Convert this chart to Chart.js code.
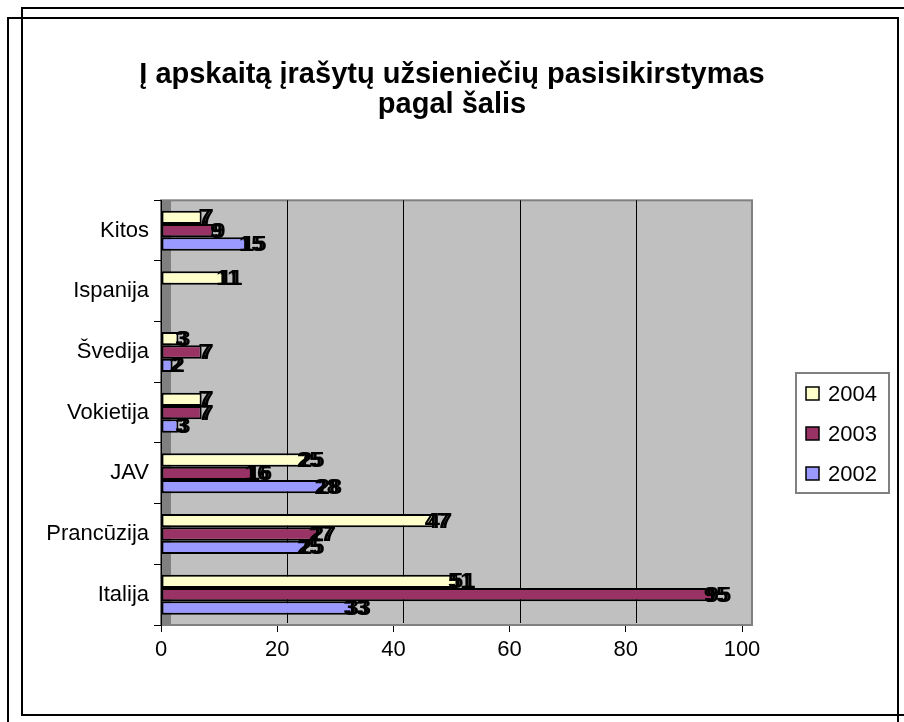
<!DOCTYPE html>
<html>
<head>
<meta charset="utf-8">
<script src="https://cdn.jsdelivr.net/npm/chart.js@4.4.1/dist/chart.umd.min.js"></script>
<style>
  body { margin: 0; background: #fff; }
  #wrap { position: relative; width: 904px; height: 722px; overflow: hidden; }
  #chart { position: absolute; left: 0; top: 0; }
  .frame { position: absolute; border: 2px solid #000; box-sizing: border-box; pointer-events: none; }
  #frameA { left: 21px; top: 7px; width: 1000px; height: 709px; }
  #frameB { left: 7px; top: 17px; width: 892px; height: 800px; }
</style>
</head>
<body>
<div id="wrap">
  <canvas id="chart" width="904" height="722"></canvas>
  <div class="frame" id="frameA"></div>
  <div class="frame" id="frameB"></div>
</div>
<script>
// duomenys
const categories = ['Kitos', 'Ispanija', 'Švedija', 'Vokietija', 'JAV', 'Prancūzija', 'Italija'];
const years = ['2004', '2003', '2002'];
const values2004 = [7, 11, 3, 7, 25, 47, 51];
const values2003 = [9, null, 7, 7, 16, 27, 95];
const values2002 = [15, null, 2, 3, 28, 25, 33];
const barColors = ['#FFFFCC', '#993366', '#9999FF'];
const xTicks = [0, 20, 40, 60, 80, 100];
const titleLines = ['Į apskaitą įrašytų užsieniečių pasisikirstymas', 'pagal šalis'];

const FONT = '"Liberation Sans", Arial, sans-serif';
const DEPTH = 10; // 3D poslinkis

// pilkas fonas + tinklelio linijos (pasislinkusios kaip 3D)
const wallPlugin = {
    id: 'wall',
    beforeDraw(chart) {
        const { ctx, chartArea: a, scales: { x } } = chart;
        ctx.save();
        ctx.fillStyle = '#C0C0C0';
        ctx.fillRect(a.left, a.top, a.right - a.left + DEPTH, a.bottom - a.top);
        ctx.strokeStyle = '#808080';
        ctx.lineWidth = 2;
        ctx.strokeRect(a.left, a.top, a.right - a.left + DEPTH, a.bottom - a.top);
        ctx.fillStyle = '#808080';
        ctx.fillRect(a.left, a.top, DEPTH, a.bottom - a.top);
        ctx.strokeStyle = '#000';
        ctx.lineWidth = 1;
        xTicks.slice(1, -1).forEach(v => {
            const px = Math.round(x.getPixelForValue(v) + DEPTH) + 0.5;
            ctx.beginPath();
            ctx.moveTo(px, a.top);
            ctx.lineTo(px, a.bottom - 2);
            ctx.stroke();
        });
        ctx.restore();
    }
};

// reikšmės prie stulpelių (dvigubas atspaudas kaip originale)
const labelPlugin = {
    id: 'barLabels',
    afterDatasetsDraw(chart) {
        const ctx = chart.ctx;
        ctx.save();
        ctx.font = 'bold 22px ' + FONT;
        ctx.fillStyle = '#000';
        ctx.textAlign = 'center';
        ctx.textBaseline = 'middle';
        chart.data.datasets.forEach((ds, i) => {
            chart.getDatasetMeta(i).data.forEach((bar, j) => {
                if (ds.data[j] == null) return;
                ctx.fillText(String(ds.data[j]), bar.x + 3, bar.y + 1);
                ctx.fillText(String(ds.data[j]), bar.x + 6, bar.y + 1);
            });
        });
        ctx.restore();
    }
};

// legenda su rėmeliu
const legendPlugin = {
    id: 'boxLegend',
    afterDraw(chart) {
        const ctx = chart.ctx;
        const box = { x: 796, y: 373, w: 93, h: 120 };
        ctx.save();
        ctx.fillStyle = '#fff';
        ctx.fillRect(box.x, box.y, box.w, box.h);
        ctx.strokeStyle = '#808080';
        ctx.lineWidth = 2;
        ctx.strokeRect(box.x, box.y, box.w, box.h);
        ctx.font = '22px ' + FONT;
        ctx.textBaseline = 'middle';
        chart.data.datasets.forEach((ds, i) => {
            const cy = box.y + 21 + i * 40;
            ctx.fillStyle = ds.backgroundColor;
            ctx.fillRect(806, cy - 7, 13, 13);
            ctx.strokeStyle = '#000';
            ctx.lineWidth = 1.5;
            ctx.strokeRect(806, cy - 7, 13, 13);
            ctx.fillStyle = '#000';
            ctx.fillText(ds.label, 828, cy + 1);
        });
        ctx.restore();
    }
};

const seriesValues = [values2004, values2003, values2002];

new Chart(document.getElementById('chart'), {
    type: 'bar',
    data: {
        labels: categories,
        datasets: years.map((y, i) => ({
            label: y,
            data: seriesValues[i],
            backgroundColor: barColors[i],
            borderColor: '#000',
            borderWidth: 2,
            borderSkipped: false,
            categoryPercentage: 0.66,
            barPercentage: 1
        }))
    },
    options: {
        indexAxis: 'y',
        responsive: false,
        animation: false,
        layout: { padding: 0 },
        plugins: {
            legend: { display: false },
            tooltip: { enabled: false },
            title: {
                display: true,
                text: titleLines,
                color: '#000',
                font: { family: FONT, size: 29, weight: 'bold', lineHeight: 1.04 },
                padding: { top: 60, bottom: 80 }
            }
        },
        scales: {
            x: {
                min: 0,
                max: 100,
                afterFit(scale) { scale.height = 97; },
                afterBuildTicks(scale) { scale.ticks = xTicks.map(v => ({ value: v })); },
                ticks: { color: '#000', font: { family: FONT, size: 22 }, padding: 5 },
                grid: { drawOnChartArea: false, drawTicks: true, tickLength: 7, color: '#000' },
                border: { display: true, color: '#808080' }
            },
            y: {
                afterFit(scale) { scale.width = 161; },
                ticks: { color: '#000', font: { family: FONT, size: 22 }, padding: 5 },
                grid: { drawOnChartArea: false, offset: true, tickLength: 7, color: '#000' },
                border: { display: true, color: '#000', width: 1 }
            },
            // tuščia ašis dešinėje – vieta legendai
            spacer: {
                axis: 'y',
                position: 'right',
                display: true,
                afterFit(scale) { scale.width = 162; },
                ticks: { display: false },
                grid: { display: false },
                border: { display: false }
            }
        }
    },
    plugins: [wallPlugin, labelPlugin, legendPlugin]
});
</script>
</body>
</html>
